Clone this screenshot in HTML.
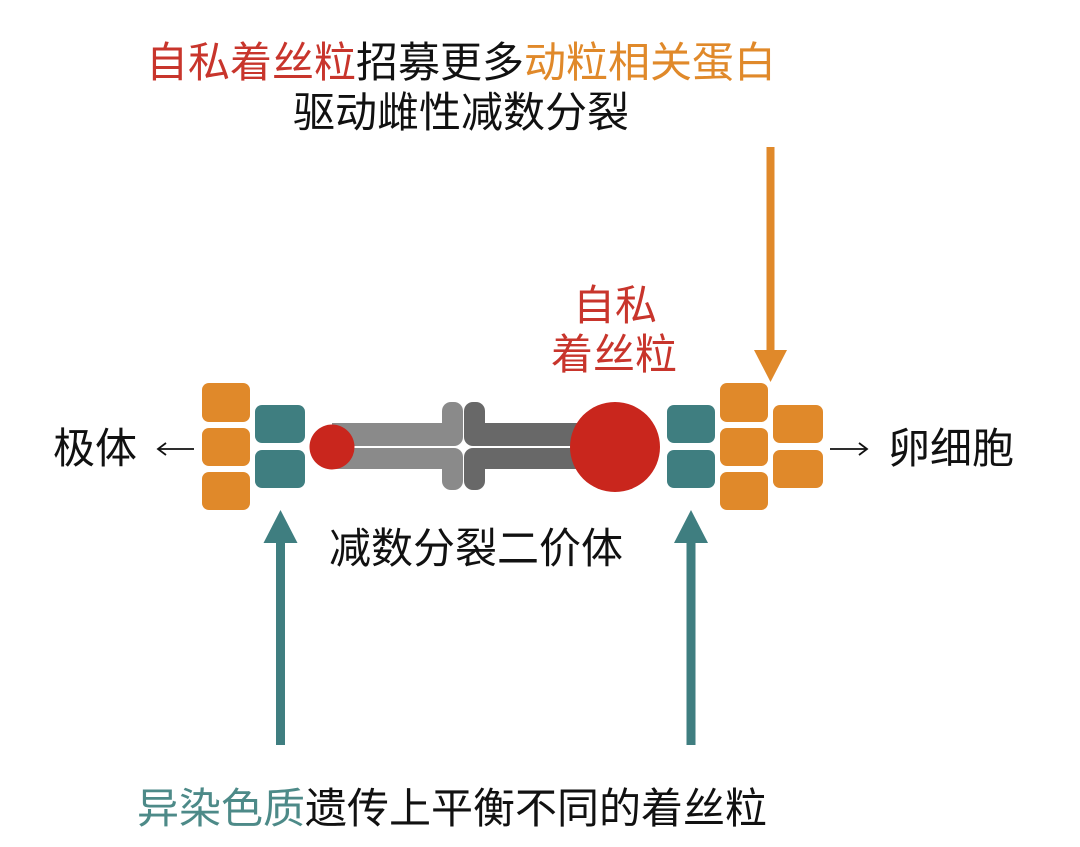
<!DOCTYPE html>
<html>
<head>
<meta charset="utf-8">
<style>
  html,body{margin:0;padding:0;background:#fff;}
  svg{display:block;}
  text{font-family:"Liberation Sans","Noto Sans CJK SC",sans-serif;font-size:42px;}
</style>
</head>
<body>
<svg width="1080" height="847" viewBox="0 0 1080 847" xmlns="http://www.w3.org/2000/svg">
  <rect width="1080" height="847" fill="#ffffff"/>

  <!-- Title -->
  <text x="461" y="77" text-anchor="middle"><tspan fill="#c8352c">自私着丝粒</tspan><tspan fill="#111">招募更多</tspan><tspan fill="#e0892a">动粒相关蛋白</tspan></text>
  <text x="461" y="127" text-anchor="middle" fill="#111">驱动雌性减数分裂</text>

  <!-- Orange arrow down -->
  <rect x="766.5" y="147" width="8" height="208" fill="#e0892a"/>
  <polygon points="754,350 787,350 770.5,382" fill="#e0892a"/>

  <!-- Selfish centromere label -->
  <text x="615" y="320" text-anchor="middle" fill="#c8352c">自私</text>
  <text x="614" y="369" text-anchor="middle" fill="#c8352c">着丝粒</text>

  <!-- Left block -->
  <rect x="202" y="383" width="48" height="39" rx="7" fill="#e0892a"/>
  <rect x="202" y="428" width="48" height="38" rx="7" fill="#e0892a"/>
  <rect x="202" y="472" width="48" height="38" rx="7" fill="#e0892a"/>
  <rect x="255" y="405" width="50" height="38" rx="7" fill="#3f7e80"/>
  <rect x="255" y="450" width="50" height="38" rx="7" fill="#3f7e80"/>

  <!-- Chromosome light (left) -->
  <rect x="332" y="423" width="122" height="23" fill="#8a8a8a"/>
  <rect x="332" y="448" width="122" height="21" fill="#8a8a8a"/>
  <rect x="442" y="402" width="21" height="44" rx="9" fill="#8a8a8a"/>
  <rect x="442" y="448" width="21" height="42" rx="9" fill="#8a8a8a"/>
  <rect x="442" y="423" width="12" height="23" fill="#8a8a8a"/>
  <rect x="442" y="448" width="12" height="21" fill="#8a8a8a"/>

  <!-- Chromosome dark (right) -->
  <rect x="474" y="423" width="116" height="23" fill="#686868"/>
  <rect x="474" y="448" width="116" height="21" fill="#686868"/>
  <rect x="464" y="402" width="21" height="44" rx="9" fill="#686868"/>
  <rect x="464" y="448" width="21" height="42" rx="9" fill="#686868"/>
  <rect x="474" y="423" width="12" height="23" fill="#686868"/>
  <rect x="474" y="448" width="12" height="21" fill="#686868"/>

  <!-- Centromeres -->
  <circle cx="332" cy="447" r="22.5" fill="#c9261d"/>
  <circle cx="615" cy="447" r="45" fill="#c9261d"/>

  <!-- Right block -->
  <rect x="667" y="405" width="48" height="38" rx="7" fill="#3f7e80"/>
  <rect x="667" y="450" width="48" height="38" rx="7" fill="#3f7e80"/>
  <rect x="720" y="383" width="48" height="39" rx="7" fill="#e0892a"/>
  <rect x="720" y="428" width="48" height="38" rx="7" fill="#e0892a"/>
  <rect x="720" y="472" width="48" height="38" rx="7" fill="#e0892a"/>
  <rect x="773" y="405" width="50" height="38" rx="7" fill="#e0892a"/>
  <rect x="773" y="450" width="50" height="38" rx="7" fill="#e0892a"/>

  <!-- Side labels with thin arrows -->
  <text x="95" y="463" text-anchor="middle" fill="#111">极体</text>
  <line x1="158" y1="449" x2="194" y2="449" stroke="#111" stroke-width="1.8"/>
  <polyline points="166,443 158,449 166,455" fill="none" stroke="#111" stroke-width="1.8"/>

  <text x="951" y="463" text-anchor="middle" fill="#111">卵细胞</text>
  <line x1="830" y1="449" x2="867" y2="449" stroke="#111" stroke-width="1.8"/>
  <polyline points="859,443 867,449 859,455" fill="none" stroke="#111" stroke-width="1.8"/>

  <!-- Bivalent label -->
  <text x="476" y="563" text-anchor="middle" fill="#111">减数分裂二价体</text>

  <!-- Teal arrows up -->
  <rect x="276" y="538" width="9" height="207" fill="#3f7e80"/>
  <polygon points="263.5,543 297.5,543 280.5,510" fill="#3f7e80"/>
  <rect x="686.5" y="538" width="9" height="207" fill="#3f7e80"/>
  <polygon points="674,543 708,543 691,510" fill="#3f7e80"/>

  <!-- Bottom label -->
  <text x="452" y="823" text-anchor="middle"><tspan fill="#4d8a88">异染色质</tspan><tspan fill="#111">遗传上平衡不同的着丝粒</tspan></text>
</svg>
</body>
</html>
